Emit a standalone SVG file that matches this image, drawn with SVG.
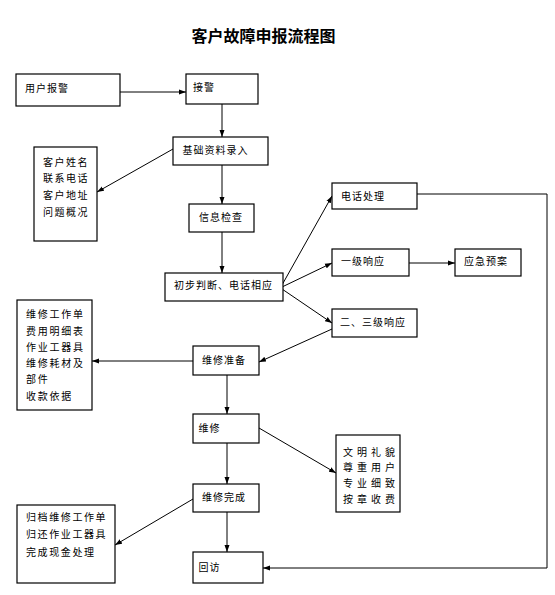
<svg xmlns="http://www.w3.org/2000/svg" width="555" height="595" viewBox="0 0 555 595">
<defs>
<style>
.box{fill:#fff;stroke:#000;stroke-width:1.2}
.t{font-family:"Noto Sans CJK SC","Noto Sans",sans-serif;font-size:10px;fill:#000;letter-spacing:1px}
.title{font-family:"Noto Sans CJK SC","Noto Sans",sans-serif;font-size:16px;font-weight:bold;fill:#000}
.c{fill:none;stroke:#000;stroke-width:1;marker-end:url(#ah)}
</style>
<marker id="ah" markerUnits="userSpaceOnUse" markerWidth="8" markerHeight="6" refX="7" refY="3" orient="auto">
<path d="M0,0.5 L7,3 L0,5.5 z" fill="#000"/>
</marker>
</defs>
<rect width="555" height="595" fill="#fff"/>
<text class="title" x="263.5" y="42" text-anchor="middle">客户故障申报流程图</text>

<g id="connectors">
<line class="c" x1="120" y1="92" x2="186" y2="92"/>
<line class="c" x1="222" y1="104" x2="222" y2="137"/>
<line class="c" x1="173" y1="149" x2="97" y2="192"/>
<line class="c" x1="222" y1="165" x2="222" y2="204"/>
<line class="c" x1="222" y1="232" x2="222" y2="273"/>
<line class="c" x1="282" y1="285" x2="332" y2="196"/>
<line class="c" x1="282" y1="287" x2="332" y2="263"/>
<line class="c" x1="282" y1="289" x2="332" y2="323"/>
<line class="c" x1="409" y1="263" x2="455" y2="263"/>
<line class="c" x1="332" y1="329" x2="259" y2="362"/>
<path class="c" d="M417,194 H547 V568 H263"/>
<line class="c" x1="193" y1="361" x2="92" y2="361"/>
<line class="c" x1="227" y1="375" x2="227" y2="414"/>
<line class="c" x1="259" y1="428" x2="336" y2="473"/>
<line class="c" x1="227" y1="443" x2="227" y2="484"/>
<line class="c" x1="193" y1="499" x2="115" y2="545"/>
<line class="c" x1="227" y1="512" x2="227" y2="552"/>
</g>

<g id="n_baojing"><rect class="box" x="16" y="74" width="104" height="32"/><text class="t" x="25" y="92">用户报警</text></g>
<g id="n_jiejing"><rect class="box" x="186" y="74" width="72" height="30"/><text class="t" x="193" y="90.5">接警</text></g>
<g id="n_luru"><rect class="box" x="173" y="137" width="95" height="28"/><text class="t" x="182.5" y="154">基础资料录入</text></g>
<g id="n_kehu"><rect class="box" x="34" y="147" width="63" height="94"/>
<text class="t" x="43" y="165.5" style="letter-spacing:1.5px">客户姓名</text>
<text class="t" x="43" y="182" style="letter-spacing:1.5px">联系电话</text>
<text class="t" x="43" y="199" style="letter-spacing:1.5px">客户地址</text>
<text class="t" x="43" y="215.5" style="letter-spacing:1.5px">问题概况</text></g>
<g id="n_jiancha"><rect class="box" x="189" y="204" width="65" height="28"/><text class="t" x="199" y="221">信息检查</text></g>
<g id="n_panduan"><rect class="box" x="165" y="273" width="118" height="28"/><text class="t" x="174" y="289">初步判断、电话相应</text></g>
<g id="n_dianhua"><rect class="box" x="332" y="183" width="85" height="26"/><text class="t" x="341" y="200">电话处理</text></g>
<g id="n_yiji"><rect class="box" x="332" y="249" width="77" height="27"/><text class="t" x="341" y="264.5">一级响应</text></g>
<g id="n_yuan"><rect class="box" x="455" y="249" width="66" height="27"/><text class="t" x="464" y="264.5">应急预案</text></g>
<g id="n_ersan"><rect class="box" x="332" y="309" width="85" height="28"/><text class="t" x="340" y="325.5">二、三级响应</text></g>
<g id="n_gongdan"><rect class="box" x="17" y="300" width="75" height="110"/>
<text class="t" x="26" y="318" style="letter-spacing:1.75px">维修工作单</text>
<text class="t" x="26" y="334.5" style="letter-spacing:1.75px">费用明细表</text>
<text class="t" x="26" y="351" style="letter-spacing:1.75px">作业工器具</text>
<text class="t" x="26" y="367" style="letter-spacing:1.75px">维修耗材及</text>
<text class="t" x="26" y="383" style="letter-spacing:1.75px">部件</text>
<text class="t" x="26" y="400" style="letter-spacing:1.75px">收款依据</text></g>
<g id="n_zhunbei"><rect class="box" x="193" y="346" width="66" height="29"/><text class="t" x="202" y="364">维修准备</text></g>
<g id="n_weixiu"><rect class="box" x="193" y="414" width="66" height="29"/><text class="t" x="198.5" y="432">维修</text></g>
<g id="n_wenming"><rect class="box" x="336" y="435" width="64" height="77"/>
<text class="t" x="343" y="455.5" style="letter-spacing:4px">文明礼貌</text>
<text class="t" x="343" y="470.5" style="letter-spacing:4px">尊重用户</text>
<text class="t" x="343" y="487" style="letter-spacing:4px">专业细致</text>
<text class="t" x="343" y="503" style="letter-spacing:4px">按章收费</text></g>
<g id="n_wancheng"><rect class="box" x="193" y="484" width="66" height="28"/><text class="t" x="202" y="500.5">维修完成</text></g>
<g id="n_guidang"><rect class="box" x="17" y="505" width="98" height="78"/>
<text class="t" x="26" y="520.5" style="letter-spacing:1.6px">归档维修工作单</text>
<text class="t" x="26" y="538" style="letter-spacing:1.6px">归还作业工器具</text>
<text class="t" x="26" y="555.5" style="letter-spacing:1.6px">完成现金处理</text></g>
<g id="n_huifang"><rect class="box" x="193" y="552" width="70" height="31"/><text class="t" x="198.5" y="570.5">回访</text></g>
</svg>
